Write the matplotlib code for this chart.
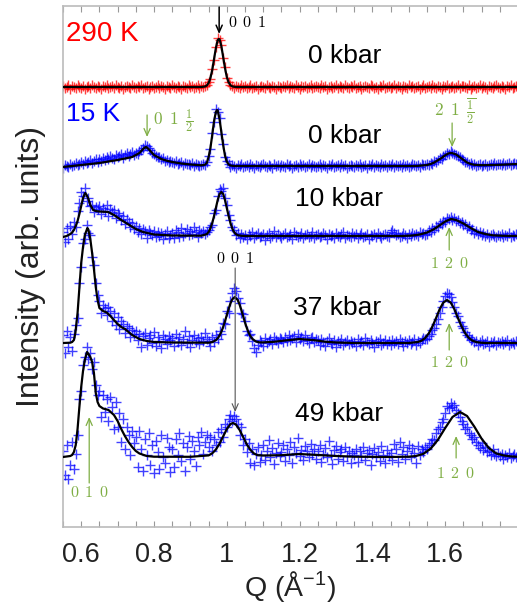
import numpy as np
import matplotlib
matplotlib.use("Agg")
import matplotlib.pyplot as plt

plt.rcParams['font.family'] = ['Liberation Sans', 'DejaVu Sans']
plt.rcParams['mathtext.fontset'] = 'custom'
plt.rcParams['mathtext.rm'] = 'Liberation Sans'
plt.rcParams['mathtext.it'] = 'Liberation Sans:italic'
plt.rcParams['mathtext.bf'] = 'Liberation Sans:bold'

# ---------------- data ----------------
# measured Q points (A^-1), 0.005 step
q_data = np.round(np.linspace(0.55, 1.80, 251), 3)

# intensities above each pattern's own background (arb. units)
i_290K = [
    1, -1, 0, 2, -2, 1, 0, -1, 2, 0, -1, 1, -2, 0, 1, -1, 2, 0, -1, 1,
    0, -2, 1, 0, 2, -1, 0, 1, -1, 2, 0, -1, 1, -2, 0, 1, 0, -1, 2, 0,
    -1, 1, 0, 2, -1, 0, 1, -2, 0, 1, -1, 0, 2, -1, 1, 0, -2, 1, 0, -1,
    2, 0, -1, 1, 0, -2, 1, 0, -1, 2, 0, 1, -1, 0, 2, -1, 1, 0, 1, 2,
    5, 8, 18, 27, 40, 49, 47, 42, 29, 20, 9, 5, 2, 1, -1, 1, 0, -1, 2, 0,
    1, -1, 0, 2, -1, 0, 1, -2, 0, 1, 0, -1, 2, 0, -1, 1, 0, -2, 1, 0,
    -1, 1, 0, 2, -1, 1, 0, -1, 2, 0, -2, 1, 0, 1, -1, 0, 2, -1, 0, 1,
    0, -1, 2, 0, 1, -2, 0, 1, -1, 0, 2, -1, 1, 0, -1, 2, 0, -1, 1, 0,
    2, -1, 0, 1, -2, 0, 1, 0, -1, 2, 1, -1, 0, -2, 1, 0, 2, -1, 0, 1,
    -1, 0, 2, -1, 1, 0, -2, 1, 0, -1, 2, 0, 1, -1, 0, 1, -2, 0, 2, -1,
    0, 1, -1, 2, 0, -1, 1, 0, -2, 1, 0, 2, -1, 0, 1, -1, 0, 2, -1, 1,
    1, 0, -1, 2, -2, 0, 1, -1, 0, 2, -1, 1, 0, -2, 1, 0, -1, 1, 2, 0,
    -1, 1, 0, -2, 1, 0, 2, -1, 0, 1, -1,
]
i_15K_0kbar = [
    -2, 1, 0, -1, 2, 0, 1, 3, 1, 2, 4, 2, 5, 3, 4, 6, 3, 5, 7, 4,
    7, 5, 8, 6, 9, 7, 10, 8, 7, 11, 9, 10, 12, 8, 11, 13, 10, 12, 14, 11,
    13, 12, 15, 16, 18, 21, 20, 18, 16, 13, 12, 10, 9, 9, 7, 8, 5, 6, 4, 5,
    4, 3, 5, 2, 3, 4, 1, 3, 2, 2, 1, 3, 0, 2, 1, 0, 1, 2, 1, 4,
    10, 17, 33, 44, 57, 54, 48, 32, 22, 9, 5, 2, -1, 1, 0, -2, 1, 0, 2, -1,
    0, 1, -1, 2, 0, -2, 1, 0, -1, 1, 2, 0, -1, 1, 0, -2, 2, 0, 1, -1,
    1, 0, -1, 2, 0, 1, -2, 0, 1, -1, 2, 0, 1, -1, 0, 2, -1, 1, 0, -1,
    0, 2, -1, 1, 0, -2, 1, 0, 2, -1, 0, 1, -1, 2, 0, 1, -2, 0, 1, 0,
    -1, 1, 0, 2, -1, 0, 1, -2, 1, 0, 2, -1, 1, 0, -1, 2, 0, 1, -1, 1,
    0, 2, -1, 1, 0, 1, -1, 2, 0, 1, -1, 0, 2, 1, 0, 1, -1, 2, 1, 1,
    2, 1, 3, 2, 5, 4, 6, 8, 7, 10, 11, 13, 12, 15, 13, 12, 11, 10, 9, 7,
    6, 4, 4, 2, 3, 1, 2, 0, 1, 2, 0, 1, 2, 0, 1, 2, 1, 3, 1, 2,
    2, 1, 3, 1, 2, 3, 1, 2, 3, 2, 1,
]
i_15K_10kbar = [
    4, -6, 8, -3, 10, 2, 14, 9, 25, 33, 44, 40, 48, 35, 38, 30, 31, 24, 29, 27,
    30, 22, 28, 25, 31, 20, 27, 24, 26, 18, 23, 21, 16, 20, 12, 17, 14, 9, 13, 7,
    10, 4, 8, 2, 7, 5, -2, 6, 3, 1, 5, -1, 4, 0, 3, -3, 2, 5, -2, 1,
    3, -2, 6, 4, -1, 8, 0, 3, 7, 1, 5, 2, 9, 4, -1, 6, 3, 5, 2, 4,
    6, 9, 11, 23, 26, 40, 47, 45, 48, 38, 31, 21, 16, 9, 6, 1, 3, -2, 2, -1,
    1, -3, 2, 0, 4, -2, 1, 3, -1, 0, 2, -4, 1, 3, -2, 0, 5, -1, 2, 0,
    -2, 1, 3, -1, 0, 2, -3, 4, 1, -1, 0, 3, -2, 1, 2, -1, 0, 4, -2, 1,
    2, -1, 0, 3, 1, -3, 2, 0, 1, -2, 3, 0, -1, 2, 4, -2, 1, 0, -1, 3,
    0, 2, -2, 1, 3, -1, 0, 2, -3, 1, 0, 2, -1, 3, 0, -2, 1, 2, 0, -1,
    4, 6, 3, 1, 2, -1, 0, 3, 1, -2, 2, 0, 3, 1, 2, 0, 4, 2, 3, 1,
    2, 6, 4, 8, 6, 10, 9, 13, 12, 15, 14, 18, 17, 19, 16, 18, 15, 16, 13, 14,
    11, 12, 8, 10, 6, 7, 3, 5, 2, 4, 1, 3, 0, 2, -1, 1, 2, 0, -1, 1,
    0, 2, -1, 1, 0, 3, -1, 1, 0, 2, 1,
]
i_15K_37kbar = [
    8, -10, 12, -4, 6, -8, 9, 18, 25, 60, 76, 100, 104, 118, 110, 108, 86, 78, 60, 48,
    42, 30, 38, 35, 28, 36, 32, 22, 30, 18, 26, 14, 22, 19, 10, 17, 15, 6, 13, 9,
    12, 3, 9, -4, 7, 10, -2, 5, 8, 0, 11, -3, 6, 2, -5, 8, 4, -1, 7, 3,
    5, -3, 9, 1, 6, -2, 4, 12, 0, 7, -4, 3, 8, 1, 5, -1, 6, 2, 10, 4,
    2, -3, 6, 1, 8, 4, 12, 9, 20, 19, 32, 30, 42, 50, 55, 52, 45, 40, 30, 29,
    22, 12, 8, 9, 2, -5, -9, -2, 3, 1, -3, 5, 0, 2, 4, -1, 6, 3, 0, 5,
    4, 1, 6, 2, 8, 3, 5, 7, 1, 9, 4, 6, 2, 8, 3, 0, 5, 6, 1, 4,
    3, -2, 4, 1, -3, 2, 5, 0, -1, 3, -4, 2, 0, 4, -2, 1, 3, -1, 2, 0,
    1, -3, 4, 0, 2, -2, 5, 1, -1, 3, 0, -4, 2, 1, 4, -2, 0, 3, -1, 2,
    -2, 3, 0, 2, -1, 4, 1, -3, 2, 0, 3, -1, 1, 4, -2, 2, 0, 3, 5, 4,
    4, 7, 9, 13, 15, 19, 24, 30, 36, 42, 47, 50, 49, 46, 41, 36, 30, 27, 21, 17,
    15, 11, 8, 6, 3, 4, 1, 2, -2, 1, 3, -1, 0, 2, -3, 1, 0, 2, -2, 1,
    0, 2, -1, 1, 3, -2, 0, 1, -1, 2, 0,
]
i_15K_49kbar = [
    6, -18, 12, -22, -8, 15, -12, 3, 22, 58, 66, 92, 100, 110, 98, 104, 88, 95, 72, 62,
    66, 40, 62, 45, 58, 36, 60, 50, 28, 55, 30, 44, 15, 38, 8, 30, 22, 2, 26, 14,
    20, -10, 26, 8, -14, 18, 2, 24, -8, 12, -16, 16, 5, -12, 22, 0, -6, 19, 10, -15,
    8, -10, 18, 2, 24, -4, 14, -14, 10, 21, -2, 16, 6, -9, 20, 12, 25, 3, 15, 22,
    10, 20, 6, 18, 12, 25, 15, 28, 20, 33, 30, 38, 42, 36, 41, 38, 33, 22, 30, 12,
    18, 5, 14, -6, 8, -8, 3, 10, -5, 2, 12, -3, 6, 17, 0, 9, -7, 4, 14, 1,
    5, 12, -4, 8, 2, 15, -6, 10, 4, 19, 1, 7, -3, 11, 6, 0, 13, 3, 8, -2,
    6, 12, -5, 3, 9, 0, 16, 2, -7, 7, 11, -2, 5, 8, -4, 10, 1, 6, -6, 4,
    2, 8, -5, 6, 1, 10, -3, 4, 7, -8, 3, 9, 0, 5, -4, 11, 2, -6, 7, 1,
    4, -3, 13, 8, -5, 15, 3, 10, -2, 6, 12, 0, 9, 4, -6, 11, 2, 8, 5, 10,
    8, 12, 14, 18, 17, 24, 28, 30, 35, 38, 44, 51, 49, 54, 50, 52, 47, 44, 40, 36,
    33, 28, 30, 24, 22, 18, 20, 15, 12, 9, 14, 7, 10, 5, 6, 2, 8, 3, 1, 4,
    1, 3, -2, 2, 0, 4, -1, 1, 3, 0, 2,
]

# fitted curves (Q, intensity above background)
q_fit_290K = [0.55, 0.93, 0.94, 0.945, 0.95, 0.955, 0.96, 0.965, 0.97, 0.975, 0.978,
              0.98, 0.985, 0.99, 0.995, 1.0, 1.005, 1.01, 1.015, 1.02, 1.03, 1.8]
fit_290K = [0, 0, 0.5, 1.5, 4, 9, 17, 28, 39, 47, 48,
            47.8, 41, 30, 19, 10, 4.7, 1.8, 0.6, 0.2, 0, 0]

q_fit_0kbar = [0.55, 0.6, 0.65, 0.7, 0.72, 0.74, 0.75, 0.76, 0.765, 0.77,
               0.775, 0.778, 0.78, 0.785, 0.79, 0.795, 0.8, 0.81, 0.82, 0.835,
               0.85, 0.875, 0.9, 0.93, 0.94, 0.945, 0.95, 0.955, 0.96, 0.965,
               0.97, 0.973, 0.975, 0.98, 0.985, 0.99, 0.995, 1.0, 1.005, 1.01,
               1.02, 1.52, 1.55, 1.56, 1.57, 1.58, 1.59, 1.60, 1.61, 1.616,
               1.62, 1.63, 1.64, 1.65, 1.66, 1.67, 1.68, 1.70, 1.75, 1.8]
fit_0kbar = [-1, 1, 3, 6, 7.5, 9, 11, 13, 15, 17,
             18.5, 19, 18.7, 17, 15, 13, 11, 9, 7, 5.3,
             4, 2.5, 1.5, 0.7, 1.3, 3, 9, 18, 31, 45,
             54, 56, 55.5, 47, 34, 21, 10.5, 4.5, 1.6, 0.5,
             0, 0, 1, 2, 3.5, 5.8, 8, 10.8, 12.7, 13,
             12.8, 11.5, 8.8, 6.2, 3.5, 2, 1.2, 0.8, 1.2, 2]

q_fit_10kbar = [0.55, 0.56, 0.57, 0.575, 0.58, 0.585, 0.59, 0.595, 0.60, 0.605,
                0.611, 0.615, 0.62, 0.625, 0.633, 0.64, 0.65, 0.674, 0.69, 0.71,
                0.73, 0.75, 0.77, 0.80, 0.85, 0.93, 0.945, 0.95, 0.955, 0.96,
                0.965, 0.97, 0.975, 0.98, 0.985, 0.99, 0.995, 1.0, 1.005, 1.01,
                1.015, 1.02, 1.025, 1.03, 1.04, 1.05, 1.48, 1.51, 1.53, 1.55,
                1.57, 1.59, 1.60, 1.616, 1.63, 1.65, 1.67, 1.69, 1.71, 1.73,
                1.76, 1.8]
fit_10kbar = [-1, 0, 2, 3.5, 6, 10, 15, 22, 30, 38,
              43, 41, 37, 31, 26, 25, 24.5, 24, 21, 16,
              11.5, 7, 4, 1.5, 0.5, 0.3, 1.9, 4, 7.6, 13,
              20, 28, 36, 42, 44, 42, 36, 28, 20, 13,
              7.6, 4, 1.9, 0.8, 0.2, 0, 0, 0.5, 1.5, 3.5,
              7, 12, 14.5, 17, 16, 12.5, 8, 4, 2, 0.7,
              0.2, 0]

q_fit_37kbar = [0.55, 0.57, 0.575, 0.58, 0.584, 0.59, 0.595, 0.60, 0.605, 0.61,
                0.617, 0.62, 0.625, 0.63, 0.635, 0.64, 0.645, 0.65, 0.66, 0.67,
                0.68, 0.69, 0.70, 0.71, 0.72, 0.73, 0.74, 0.76, 0.78, 0.80,
                0.85, 0.95, 0.96, 0.97, 0.975, 0.98, 0.985, 0.99, 0.995, 1.0,
                1.005, 1.01, 1.015, 1.022, 1.03, 1.035, 1.04, 1.045, 1.05, 1.055,
                1.06, 1.065, 1.07, 1.08, 1.09, 1.10, 1.13, 1.16, 1.2, 1.24,
                1.27, 1.3, 1.35, 1.5, 1.525, 1.535, 1.545, 1.555, 1.565, 1.575,
                1.585, 1.595, 1.605, 1.615, 1.625, 1.635, 1.645, 1.655, 1.665, 1.675,
                1.685, 1.695, 1.71, 1.8]
fit_37kbar = [0, 0.3, 1, 3, 10, 30, 55, 80, 96, 108,
              115, 113, 104, 90, 74, 56, 43, 35, 32, 30.5,
              27, 23, 19, 16, 14, 11, 8, 4, 2, 1,
              0.5, 0.3, 0.9, 2.8, 4.7, 7.5, 11.2, 16, 21.7, 28,
              34, 39.6, 43.7, 46, 43, 38.6, 33, 26.7, 20.5, 15,
              10.3, 6.8, 4.2, 1.5, 0.6, 0.6, 1.2, 2.5, 4, 2.8,
              1.3, 0.5, 0, 0, 1, 2.3, 5, 9.7, 16.6, 25,
              34, 40.5, 43, 40.5, 34, 25, 16.6, 9.7, 5, 2.3,
              1, 0.4, 0, 0]

q_fit_49kbar = [0.55, 0.57, 0.575, 0.58, 0.585, 0.59, 0.595, 0.60, 0.605, 0.61,
                0.616, 0.62, 0.625, 0.63, 0.635, 0.64, 0.645, 0.65, 0.66, 0.675,
                0.69, 0.70, 0.71, 0.72, 0.73, 0.74, 0.75, 0.76, 0.78, 0.80,
                0.90, 0.95, 0.96, 0.97, 0.98, 0.99, 1.0, 1.01, 1.017, 1.025,
                1.035, 1.045, 1.055, 1.065, 1.075, 1.085, 1.10, 1.15, 1.2, 1.25,
                1.3, 1.35, 1.45, 1.5, 1.52, 1.54, 1.56, 1.58, 1.60, 1.62,
                1.641, 1.66, 1.68, 1.70, 1.72, 1.74, 1.76, 1.78, 1.8]
fit_49kbar = [0, 1, 2, 5, 12, 28, 50, 70, 86, 97,
              105, 103, 100, 95, 84, 64, 55, 51, 48.5, 47,
              42, 36, 28, 21, 15, 10, 6, 3.5, 1, 0.3,
              0.2, 1.6, 3.7, 7.5, 13.3, 20.6, 27.9, 32.9, 34, 32.5,
              27.2, 19.9, 12.6, 7, 3.4, 1.8, 1.5, 1.8, 3, 2,
              1, 0.3, 0, 0.3, 1, 3.2, 8.3, 17.2, 29, 40,
              45, 41, 30.4, 18.3, 9, 3.6, 1.6, 0.6, 0.2]

# ---------------- layout constants ----------------
OFF_290K, OFF_0, OFF_10, OFF_37, OFF_49 = 440, 361, 291, 184, 70
RED, BLUE, GREEN = '#ff0000', '#0000ff', '#7fae44'

fig = plt.figure(figsize=(5.17, 6.05), dpi=100)
ax = fig.add_axes([63 / 517, 78 / 605, 455 / 517, 521 / 605])

series = [
    (i_290K, q_fit_290K, fit_290K, OFF_290K, RED),
    (i_15K_0kbar, q_fit_0kbar, fit_0kbar, OFF_0, BLUE),
    (i_15K_10kbar, q_fit_10kbar, fit_10kbar, OFF_10, BLUE),
    (i_15K_37kbar, q_fit_37kbar, fit_37kbar, OFF_37, BLUE),
    (i_15K_49kbar, q_fit_49kbar, fit_49kbar, OFF_49, BLUE),
]
for data, qf, fit, off, col in series:
    ax.plot(q_data, np.asarray(data, float) + off, '+', color=col,
            ms=7, mew=1.0, alpha=0.75, zorder=2)
    ax.plot(qf, np.asarray(fit, float) + off, '-', color='black', lw=1.6, zorder=3)

ax.set_xlim(0.55, 1.8)
ax.set_ylim(0, 521)

# axes styling
for s in ['left', 'top', 'bottom', 'right']:
    ax.spines[s].set_color('#bbbbbb')
    ax.spines[s].set_linewidth(1.2)
ax.set_xticks([0.6, 0.8, 1.0, 1.2, 1.4, 1.6])
ax.set_xticklabels(['0.6', '0.8', '1', '1.2', '1.4', '1.6'])
ax.set_xticks(np.arange(0.55, 1.801, 0.05), minor=True)
ax.tick_params(axis='x', which='both', direction='in', top=True, length=4,
               width=0.8, color='#999999', labelsize=19.5, labelcolor='#222222', pad=11)
ax.set_yticks([])
ax.set_xlabel('Q (Å$^{-1}$)', fontsize=20.5, color='#222222', labelpad=0.5)
ax.set_ylabel('Intensity (arb. units)', fontsize=23, color='#222222', labelpad=12)

# labels
ax.text(0.558, 486, '290 K', color=RED, fontsize=20, va='baseline')
ax.text(0.558, 406, '15 K', color=BLUE, fontsize=19, va='baseline')
ax.text(1.224, 464, '0 kbar', fontsize=19, va='baseline')
ax.text(1.224, 384, '0 kbar', fontsize=19, va='baseline')
ax.text(1.188, 321, '10 kbar', fontsize=19, va='baseline')
ax.text(1.182, 212, '37 kbar', fontsize=19, va='baseline')
ax.text(1.188, 106, '49 kbar', fontsize=19, va='baseline')

# Miller index annotations
def arrow(x0, y0, x1, y1, color, lw=0.9):
    ax.annotate('', xy=(x1, y1), xytext=(x0, y0),
                arrowprops=dict(arrowstyle='->,head_length=0.5,head_width=0.22',
                                color=color, lw=lw, shrinkA=0, shrinkB=0))

def idx(x, y, s, color, ha='left', size=11.5):
    ax.text(x, y, s, color=color, fontsize=size, ha=ha, va='baseline',
            math_fontfamily='cm')

arrow(0.979, 520, 0.979, 493, 'black', lw=1.1)
idx(1.004, 500, r'$0\ \,0\ \,1$', 'black')

arrow(0.781, 412, 0.781, 390, GREEN)
idx(0.798, 402, r'$0\ \,1\ \,\frac{1}{2}$', GREEN, size=12.5)

arrow(1.619, 404, 1.619, 380, GREEN)
idx(1.570, 410, r'$2\ \,1\ \,\overline{\frac{1}{2}}$', GREEN, size=12.5)

arrow(1.611, 277, 1.611, 300, GREEN)
idx(1.611, 259, r'$1\ \,2\ \,0$', GREEN, ha='center')
arrow(1.611, 177, 1.611, 204, GREEN)
idx(1.611, 160, r'$1\ \,2\ \,0$', GREEN, ha='center')
arrow(1.630, 69, 1.630, 91, GREEN)
idx(1.630, 49, r'$1\ \,2\ \,0$', GREEN, ha='center')

arrow(0.622, 44, 0.622, 110, GREEN)
idx(0.622, 30, r'$0\ \,1\ \,0$', GREEN, ha='center')

idx(1.023, 264, r'$0\ \,0\ \,1$', 'black', ha='center')
arrow(1.023, 259, 1.023, 115, '#555555', lw=0.8)

fig.savefig('out.png', dpi=100)
